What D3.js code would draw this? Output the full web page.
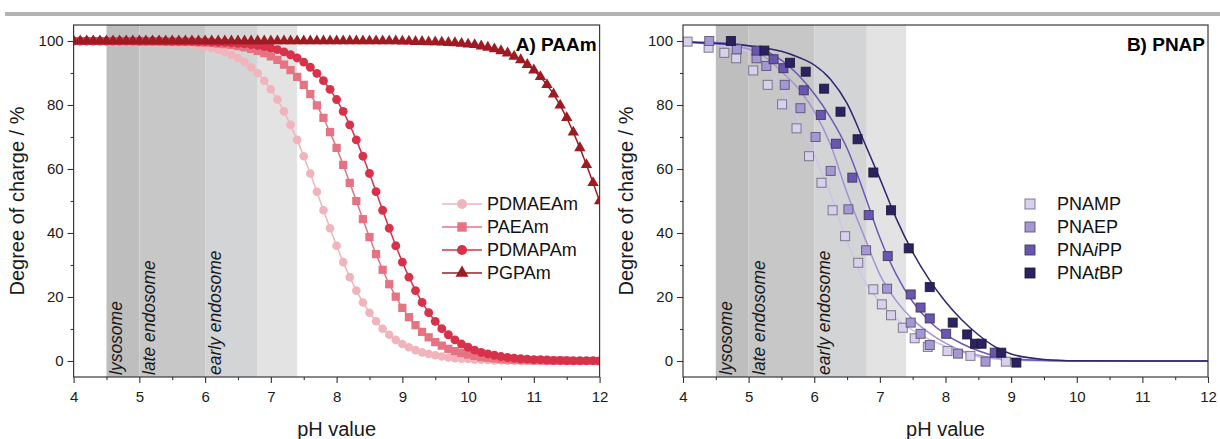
<!DOCTYPE html>
<html>
<head>
<meta charset="utf-8">
<script src="https://cdn.jsdelivr.net/npm/d3@7"></script>
<style>
  body { margin: 0; background: #fff; }
  svg { display: block; }
  text { font-family: "Liberation Sans", Arial, sans-serif; }
</style>
</head>
<body>
<svg id="chart" width="1220" height="439"></svg>
<script>
// ---------- shared axis values ----------
const xMajor = [4, 5, 6, 7, 8, 9, 10, 11, 12];
const xTickLabels = ["4", "5", "6", "7", "8", "9", "10", "11", "12"];
const xMinor = [4.5, 5.5, 6.5, 7.5, 8.5, 9.5, 10.5, 11.5];
const yMajor = [0, 20, 40, 60, 80, 100];
const yTickLabels = ["0", "20", "40", "60", "80", "100"];
const yMinor = [10, 30, 50, 70, 90];

// ---------- cell compartments (pH ranges) ----------
const bandFrom = [4.5, 5.0, 6.0, 6.8];
const bandTo = [5.0, 6.0, 6.8, 7.4];
const bandNames = ["lysosome", "late endosome", "early endosome", ""];

// ---------- A) PAAm : titration data ----------
const phA = [
  4.0, 4.1, 4.2, 4.3, 4.4, 4.5, 4.6, 4.7, 4.8, 4.9,
  5.0, 5.1, 5.2, 5.3, 5.4, 5.5, 5.6, 5.7, 5.8, 5.9,
  6.0, 6.1, 6.2, 6.3, 6.4, 6.5, 6.6, 6.7, 6.8, 6.9,
  7.0, 7.1, 7.2, 7.3, 7.4, 7.5, 7.6, 7.7, 7.8, 7.9,
  8.0, 8.1, 8.2, 8.3, 8.4, 8.5, 8.6, 8.7, 8.8, 8.9,
  9.0, 9.1, 9.2, 9.3, 9.4, 9.5, 9.6, 9.7, 9.8, 9.9,
  10.0, 10.1, 10.2, 10.3, 10.4, 10.5, 10.6, 10.7, 10.8, 10.9,
  11.0, 11.1, 11.2, 11.3, 11.4, 11.5, 11.6, 11.7, 11.8, 11.9,
  12.0
];
const pdmaeam = [
  100.0, 100.0, 100.0, 100.0, 100.0, 99.9, 99.9, 99.9, 99.9, 99.9,
  99.8, 99.8, 99.7, 99.6, 99.6, 99.4, 99.3, 99.1, 98.9, 98.6,
  98.3, 97.8, 97.3, 96.6, 95.7, 94.7, 93.4, 91.8, 89.9, 87.6,
  84.9, 81.7, 78.0, 73.8, 69.1, 64.0, 58.6, 52.9, 47.1, 41.5,
  36.0, 30.9, 26.2, 22.0, 18.3, 15.1, 12.4, 10.1, 8.2, 6.6,
  5.3, 4.3, 3.4, 2.7, 2.2, 1.8, 1.4, 1.1, 0.9, 0.7,
  0.6, 0.4, 0.4, 0.3, 0.2, 0.2, 0.1, 0.1, 0.1, 0.1,
  0.1, 0.0, 0.0, 0.0, 0.0, 0.0, 0.0, 0.0, 0.0, 0.0,
  0.0
];
const paeam = [
  100.0, 100.0, 100.0, 100.0, 100.0, 100.0, 100.0, 100.0, 100.0, 100.0,
  99.9, 99.9, 99.9, 99.9, 99.9, 99.8, 99.8, 99.7, 99.7, 99.6,
  99.5, 99.4, 99.2, 99.0, 98.8, 98.4, 98.0, 97.5, 96.9, 96.2,
  95.2, 94.1, 92.6, 90.9, 88.8, 86.3, 83.4, 79.9, 76.0, 71.5,
  66.6, 61.3, 55.7, 50.0, 44.3, 38.7, 33.4, 28.5, 24.0, 20.1,
  16.6, 13.7, 11.2, 9.1, 7.4, 5.9, 4.8, 3.8, 3.1, 2.5,
  2.0, 1.6, 1.2, 1.0, 0.8, 0.6, 0.5, 0.4, 0.3, 0.3,
  0.2, 0.2, 0.1, 0.1, 0.1, 0.1, 0.0, 0.0, 0.0, 0.0,
  0.0
];
const pdmapam = [
  100.0, 100.0, 100.0, 100.0, 100.0, 100.0, 100.0, 100.0, 100.0, 100.0,
  100.0, 100.0, 100.0, 100.0, 99.9, 99.9, 99.9, 99.9, 99.9, 99.8,
  99.8, 99.7, 99.6, 99.6, 99.4, 99.3, 99.1, 98.9, 98.6, 98.3,
  97.8, 97.3, 96.6, 95.7, 94.7, 93.4, 91.8, 89.9, 87.6, 84.9,
  81.7, 78.0, 73.8, 69.1, 64.0, 58.6, 52.9, 47.1, 41.5, 36.0,
  30.9, 26.2, 22.0, 18.3, 15.1, 12.4, 10.1, 8.2, 6.6, 5.3,
  4.3, 3.4, 2.7, 2.2, 1.8, 1.4, 1.1, 0.9, 0.7, 0.6,
  0.4, 0.4, 0.3, 0.2, 0.2, 0.1, 0.1, 0.1, 0.1, 0.1,
  0.0
];
const pgpam = [
  100.0, 100.0, 100.0, 100.0, 100.0, 100.0, 100.0, 100.0, 100.0, 100.0,
  100.0, 100.0, 100.0, 100.0, 100.0, 100.0, 100.0, 100.0, 100.0, 100.0,
  100.0, 100.0, 100.0, 100.0, 100.0, 100.0, 100.0, 100.0, 100.0, 100.0,
  100.0, 100.0, 100.0, 100.0, 100.0, 100.0, 100.0, 100.0, 100.0, 100.0,
  100.0, 100.0, 100.0, 100.0, 100.0, 100.0, 100.0, 100.0, 100.0, 100.0,
  99.9, 99.9, 99.8, 99.8, 99.7, 99.7, 99.6, 99.5, 99.4, 99.2,
  99.0, 98.8, 98.4, 98.0, 97.5, 96.9, 96.2, 95.2, 94.1, 92.6,
  90.9, 88.8, 86.3, 83.4, 79.9, 76.0, 71.5, 66.6, 61.3, 55.7,
  50.0
];
const namesA = ["PDMAEAm", "PAEAm", "PDMAPAm", "PGPAm"];

// ---------- B) PNAP : measured points ----------
const pnampPH = [4.07, 4.39, 4.63, 4.81, 5.07, 5.29, 5.51, 5.73, 5.92, 6.11, 6.28, 6.47, 6.67, 6.90, 7.03, 7.17, 7.35, 7.53, 7.73, 8.03, 8.38, 8.92];
const pnampVal = [99.8, 97.9, 96.3, 94.6, 90.8, 86.3, 80.2, 72.7, 64.0, 55.7, 47.1, 39.0, 30.7, 22.4, 17.7, 14.3, 10.4, 7.1, 4.4, 3.1, 1.6, -0.2];
const pnaepPH = [4.40, 4.82, 5.12, 5.27, 5.55, 5.79, 6.02, 6.25, 6.52, 6.79, 7.11, 7.47, 7.62, 7.76, 8.19, 8.61];
const pnaepVal = [100.0, 97.4, 94.6, 92.2, 86.3, 79.0, 70.0, 59.4, 47.4, 34.6, 22.6, 12.0, 8.5, 5.0, 2.3, -0.2];
const pnaippPH = [5.12, 5.38, 5.53, 5.84, 6.10, 6.33, 6.58, 6.83, 7.12, 7.47, 7.62, 7.76, 8.01, 8.75];
const pnaippVal = [97.0, 94.3, 91.5, 84.6, 76.9, 67.9, 57.3, 45.6, 32.8, 20.8, 16.7, 13.3, 8.5, 2.6];
const pnatbpPH = [4.73, 5.24, 5.63, 5.87, 6.15, 6.40, 6.66, 6.90, 7.17, 7.44, 7.76, 8.11, 8.33, 8.45, 8.55, 8.85, 9.08];
const pnatbpVal = [100.0, 97.0, 93.2, 90.4, 85.1, 77.9, 69.3, 58.9, 47.1, 35.2, 23.1, 12.0, 8.3, 5.4, 5.4, 2.6, -0.5];

// ---------- B) PNAP : fitted curves ----------
const fitPH = [4.0, 4.5, 5.0, 5.25, 5.5, 5.75, 6.0, 6.25, 6.5, 6.75, 7.0, 7.25, 7.5, 7.75, 8.0, 8.25, 8.5, 8.75, 9.0, 9.5, 10.0, 11.0, 12.0];
const pnampFit = [99.7, 98.8, 96.8, 92.5, 85.0, 75.9, 64.5, 52.0, 37.5, 25.5, 18.5, 13.2, 9.6, 6.8, 4.6, 2.8, 1.3, 0.6, 0.3, 0.1, 0.0, 0.0, 0.0];
const pnaepFit = [99.8, 99.2, 97.5, 95.0, 90.5, 85.3, 78.0, 67.5, 52.5, 39.5, 27.0, 18.8, 13.0, 8.8, 5.6, 3.2, 1.8, 0.9, 0.4, 0.1, 0.0, 0.0, 0.0];
const pnaippFit = [99.8, 99.5, 98.5, 97.0, 94.0, 89.5, 83.5, 76.0, 66.5, 53.0, 38.5, 27.0, 18.5, 12.5, 8.3, 5.4, 3.2, 1.6, 0.8, 0.2, 0.0, 0.0, 0.0];
const pnatbpFit = [99.6, 99.2, 98.5, 97.8, 96.8, 95.0, 92.5, 88.0, 80.5, 69.0, 57.0, 44.5, 34.0, 25.5, 18.5, 12.8, 8.2, 4.5, 2.2, 0.5, 0.1, 0.0, 0.0];

// ---------- layout ----------
const svg = d3.select("#chart");
const plotTop = 25, plotBottom = 377;
const yDomain = [-5, 105];
const xDomain = [4, 12];
const bandColors = ["#bebebe", "#c7c7c7", "#d3d4d6", "#e3e3e3"];
const font = '"Liberation Sans", Arial, sans-serif';

// grey rule across the top
svg.append("rect").attr("x", 5).attr("y", 12).attr("width", 1215).attr("height", 4).attr("fill", "#b3b3b3");

const defs = svg.append("defs");

function makePanel(id, left, right, title) {
  const x = d3.scaleLinear().domain(xDomain).range([left, right]);
  const y = d3.scaleLinear().domain(yDomain).range([plotBottom, plotTop]);
  const g = svg.append("g");

  defs.append("clipPath").attr("id", "clip-" + id)
    .append("rect").attr("x", left).attr("y", plotTop)
    .attr("width", right - left).attr("height", plotBottom - plotTop);

  // compartment bands
  g.selectAll("rect.band").data(bandFrom).join("rect")
    .attr("class", "band")
    .attr("x", d => x(d))
    .attr("y", plotTop)
    .attr("width", (d, i) => x(bandTo[i]) - x(d))
    .attr("height", plotBottom - plotTop)
    .attr("fill", (d, i) => bandColors[i]);

  g.selectAll("text.band").data(bandFrom).join("text")
    .attr("class", "band")
    .attr("transform", d => `translate(${x(d) + 16},${plotBottom - 2}) rotate(-90)`)
    .attr("font-size", 17.5)
    .attr("font-style", "italic")
    .attr("fill", "#1a1a1a")
    .text((d, i) => bandNames[i]);

  const plot = g.append("g").attr("clip-path", `url(#clip-${id})`);
  const over = svg.append("g");
  return { x, y, g, plot, over, left, right, title };
}

function finishPanel(p) {
  const o = p.over;
  o.append("rect").attr("x", p.left).attr("y", plotTop)
    .attr("width", p.right - p.left).attr("height", plotBottom - plotTop)
    .attr("fill", "none").attr("stroke", "#3a3a3a").attr("stroke-width", 1.2);

  const styleAxis = a => {
    a.select(".domain").remove();
    a.selectAll("line").attr("stroke", "#333").attr("stroke-width", 1.1);
    a.selectAll("text").attr("font-size", 15).attr("font-family", font).attr("fill", "#1a1a1a");
  };

  o.append("g").attr("transform", `translate(0,${plotBottom})`)
    .call(d3.axisBottom(p.x).tickValues(xMajor).tickSize(6).tickPadding(8)
      .tickFormat((d, i) => xTickLabels[i]))
    .call(styleAxis);
  o.append("g").attr("transform", `translate(0,${plotBottom})`)
    .call(d3.axisBottom(p.x).tickValues(xMinor).tickSize(3).tickFormat(""))
    .call(styleAxis);
  o.append("g").attr("transform", `translate(${p.left},0)`)
    .call(d3.axisLeft(p.y).tickValues(yMajor).tickSize(6).tickPadding(4)
      .tickFormat((d, i) => yTickLabels[i]))
    .call(styleAxis);
  o.append("g").attr("transform", `translate(${p.left},0)`)
    .call(d3.axisLeft(p.y).tickValues(yMinor).tickSize(3).tickFormat(""))
    .call(styleAxis);

  o.append("text")
    .attr("x", (p.left + p.right) / 2).attr("y", 436)
    .attr("text-anchor", "middle").attr("font-size", 20).attr("fill", "#1a1a1a")
    .text("pH value");
  o.append("text")
    .attr("transform", `translate(${p.left - 50},${(plotTop + plotBottom) / 2}) rotate(-90)`)
    .attr("text-anchor", "middle").attr("font-size", 20).attr("fill", "#1a1a1a")
    .text("Degree of charge / %");
  o.append("text")
    .attr("x", p.right - 3).attr("y", 51)
    .attr("text-anchor", "end").attr("font-size", 19).attr("font-weight", "bold").attr("fill", "#000")
    .text(p.title);
}

// ---------- panel A ----------
const A = makePanel("a", 73.6, 599.6, "A) PAAm");
const seriesA = [
  { name: namesA[0], values: pdmaeam, color: "#f2b4bc", shape: d3.symbolCircle, size: 58 },
  { name: namesA[1], values: paeam, color: "#e67382", shape: d3.symbolSquare, size: 68 },
  { name: namesA[2], values: pdmapam, color: "#d8324b", shape: d3.symbolCircle, size: 62 },
  { name: namesA[3], values: pgpam, color: "#9e1b23", shape: d3.symbolTriangle, size: 56 }
];
seriesA.forEach(s => {
  const pts = phA.map((ph, i) => [ph, s.values[i]]);
  A.plot.append("path").datum(pts)
    .attr("fill", "none").attr("stroke", s.color).attr("stroke-width", 1.5)
    .attr("d", d3.line().x(d => A.x(d[0])).y(d => A.y(d[1])));
  A.plot.selectAll(null).data(pts).join("path")
    .attr("transform", d => `translate(${A.x(d[0])},${A.y(d[1])})`)
    .attr("d", d3.symbol(s.shape, s.size))
    .attr("fill", s.color);
});
// legend A
const legA = A.over.append("g");
seriesA.forEach((s, i) => {
  const cy = 204 + i * 23;
  legA.append("line").attr("x1", 442).attr("x2", 482).attr("y1", cy).attr("y2", cy)
    .attr("stroke", s.color).attr("stroke-width", 1.5);
  legA.append("path").attr("transform", `translate(462,${cy})`)
    .attr("d", d3.symbol(s.shape, s.size * 1.3)).attr("fill", s.color);
  legA.append("text").attr("x", 487).attr("y", cy).attr("dy", "0.35em")
    .attr("font-size", 18).attr("fill", "#111").text(s.name);
});
finishPanel(A);

// ---------- panel B ----------
const B = makePanel("b", 683, 1208, "B) PNAP");
const seriesB = [
  { label: ["PNAMP"], ph: pnampPH, val: pnampVal, fit: pnampFit, color: "#d8d0ec", line: "#cdc4ea", stroke: "#6a6a78" },
  { label: ["PNAEP"], ph: pnaepPH, val: pnaepVal, fit: pnaepFit, color: "#a596d4", line: "#a193d4", stroke: "#56506e" },
  { label: ["PNA", "i", "PP"], ph: pnaippPH, val: pnaippVal, fit: pnaippFit, color: "#6a55b1", line: "#6b59b5", stroke: "#3b3455" },
  { label: ["PNA", "t", "BP"], ph: pnatbpPH, val: pnatbpVal, fit: pnatbpFit, color: "#2b2163", line: "#2f2671", stroke: "#1b1730" }
];
const fitLine = d3.line().curve(d3.curveMonotoneX).x(d => B.x(d[0])).y(d => B.y(d[1]));
seriesB.forEach(s => {
  B.plot.append("path").datum(fitPH.map((ph, i) => [ph, s.fit[i]]))
    .attr("fill", "none").attr("stroke", s.line).attr("stroke-width", 1.5)
    .attr("d", fitLine);
});
const sq = 9;
seriesB.forEach(s => {
  B.plot.selectAll(null).data(s.ph.map((ph, i) => [ph, s.val[i]])).join("rect")
    .attr("x", d => B.x(d[0]) - sq / 2).attr("y", d => B.y(d[1]) - sq / 2)
    .attr("width", sq).attr("height", sq)
    .attr("fill", s.color).attr("stroke", s.stroke).attr("stroke-opacity", 0.85).attr("stroke-width", 1);
});
// legend B
const legB = B.over.append("g");
seriesB.forEach((s, i) => {
  const cy = 204 + i * 23;
  legB.append("rect").attr("x", 1030 - sq / 2 - 0.5).attr("y", cy - sq / 2 - 0.5)
    .attr("width", sq + 1).attr("height", sq + 1)
    .attr("fill", s.color).attr("stroke", s.stroke).attr("stroke-opacity", 0.85);
  const t = legB.append("text").attr("x", 1057).attr("y", cy).attr("dy", "0.35em")
    .attr("font-size", 18).attr("fill", "#111");
  s.label.forEach((part, j) => {
    t.append("tspan").attr("font-style", j === 1 ? "italic" : "normal").text(part);
  });
});
finishPanel(B);
</script>
</body>
</html>
